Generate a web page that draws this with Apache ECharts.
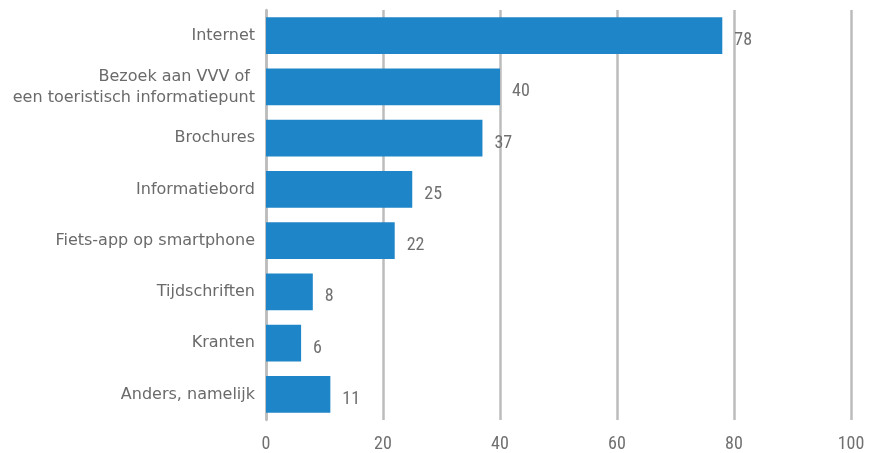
<!DOCTYPE html>
<html><head><meta charset="utf-8">
<script src="https://cdn.jsdelivr.net/npm/echarts@6/dist/echarts.min.js"></script>
<style>html,body{margin:0;padding:0;background:#fff}#c{width:872px;height:453px}</style>
</head><body><div id="c"></div>
<script>
const categories = ["Internet","Bezoek aan VVV of \neen toeristisch informatiepunt","Brochures","Informatiebord","Fiets-app op smartphone","Tijdschriften","Kranten","Anders, namelijk"];
const values = [78,40,37,25,22,8,6,11];
const xTicks = [0,20,40,60,80,100];
const numFont = '"Liberation Sans Narrow", "Roboto Condensed", Roboto';
const chart = echarts.init(document.getElementById('c'));
chart.setOption({
  animation:false,
  textStyle:{fontFamily:'DejaVu Sans'},
  grid:{left:266,right:21,top:10,bottom:33,containLabel:false},
  xAxis:{type:'value',min:xTicks[0],max:xTicks[xTicks.length-1],interval:20,
    axisLine:{show:false},axisTick:{show:false},
    axisLabel:{color:'#707070',fontSize:18,margin:15,fontFamily:numFont},
    splitLine:{show:true,lineStyle:{color:'#bcbcbc',width:2.5}}},
  yAxis:{type:'category',inverse:true,data:categories,
    axisLine:{show:true,lineStyle:{color:'#bcbcbc',width:2.5}},axisTick:{show:false},
    axisLabel:{color:'#6a6a6a',fontSize:16,margin:11,lineHeight:21,fontFamily:'DejaVu Sans'}},
  series:[{type:'bar',data:values,barCategoryGap:'28%',
    itemStyle:{color:'#1e86c8'},
    label:{show:true,position:'right',distance:12,offset:[0,5],color:'#707070',fontSize:18,fontFamily:numFont}}]
});
</script></body></html>
